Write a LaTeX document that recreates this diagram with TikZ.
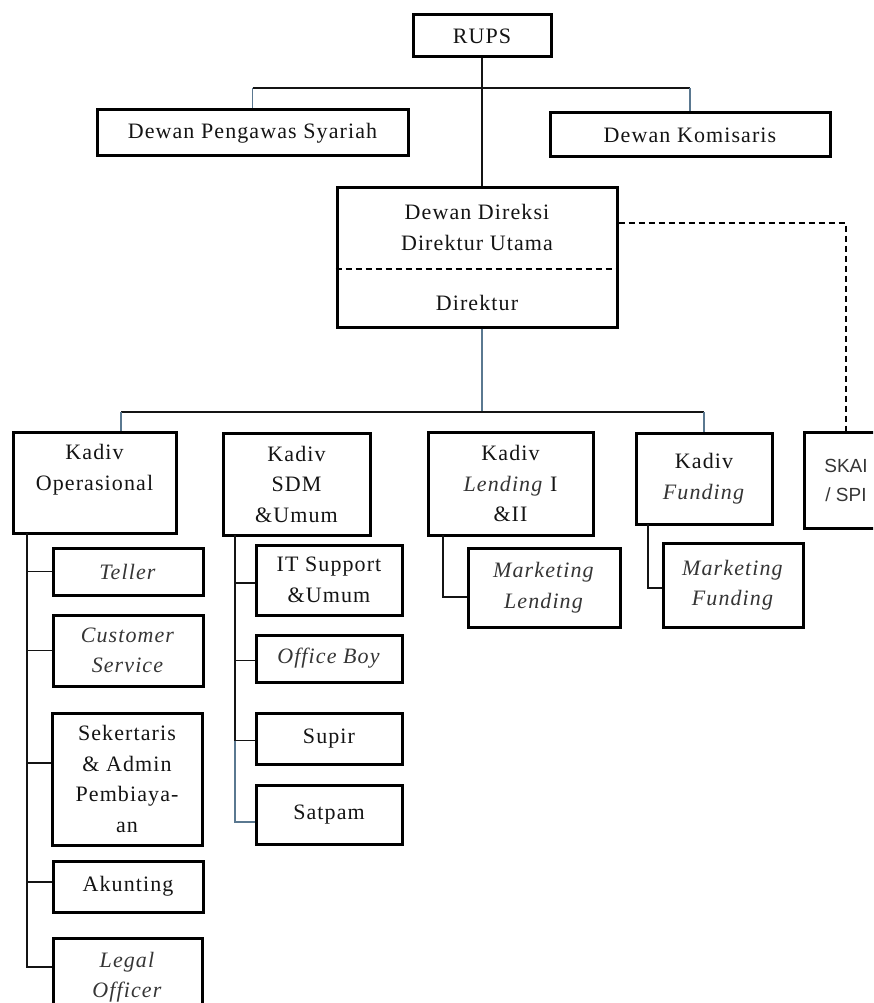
\documentclass[tikz,border=0pt]{standalone}
\usepackage{fontspec}
\setmainfont{Liberation Serif}[LetterSpace=5]
\setsansfont{Liberation Sans}
\usepackage{tikz}

\definecolor{ink}{HTML}{141414}
\definecolor{inkit}{HTML}{353535}
\definecolor{dropline}{HTML}{5A7890}
\newcommand{\itword}[1]{\textcolor{inkit}{\textit{#1}}}

\begin{document}
\begin{tikzpicture}[
  x=1pt, y=-1pt,
  box/.style={rectangle, draw=black, line width=3pt, inner sep=2pt, align=center, text=ink, font=\fontsize{22}{30.5}\selectfont},
  boxtext/.style={inner sep=0pt, align=center, text=ink, font=\fontsize{22}{31}\selectfont},
  sidebox/.style={box, text=inkit, font=\sffamily\fontsize{19}{29}\selectfont},
  link/.style={draw=ink, line width=1.4pt},
  droplink/.style={draw=dropline, line width=1.1pt},
  dashlink/.style={draw=black, line width=1.4pt, dash pattern=on 6pt off 4pt},
]
\clip (0,0) rectangle (873,1003);

% Top: RUPS and boards
\node[box, minimum width=138pt, minimum height=42pt] (rups) at (482,36) {RUPS};
\node[box, minimum width=311pt, minimum height=46pt] (dps) at (252.5,133) {Dewan Pengawas Syariah};
\node[box, minimum width=280pt, minimum height=44pt] (dk) at (690,135) {Dewan Komisaris};

% Board of directors
\node[box, minimum width=280pt, minimum height=139pt] (dd) at (477,257.5) {};
\node[boxtext] (ddtop) at (477,227.5) {Dewan Direksi\\Direktur Utama};
\node[boxtext] (ddbot) at (477,303) {Direktur};

% Division heads
\node[box, minimum width=163pt, minimum height=101pt] (kop) at (94.5,482.5) {Kadiv\\Operasional\\\mbox{}};
\node[box, minimum width=147pt, minimum height=102pt] (ksdm) at (296.5,484) {Kadiv\\SDM\\\&Umum};
\node[box, minimum width=165pt, minimum height=103pt] (klend) at (510.5,483.5) {Kadiv\\\itword{Lending} I\\\&II};
\node[box, minimum width=136pt, minimum height=91pt] (kfund) at (704,478.5) {Kadiv\\\itword{Funding}};
\node[sidebox, minimum width=84pt, minimum height=96pt] (skai) at (846,480) {SKAI\\/ SPI};

% Operasional staff
\node[box, minimum width=150pt, minimum height=47pt] (teller) at (128,571.5) {\itword{Teller}};
\node[box, minimum width=150pt, minimum height=71pt] (cs) at (128,650.5) {\itword{Customer}\\\itword{Service}};
\node[box, minimum width=150pt, minimum height=132pt] (sek) at (127,779) {Sekertaris\\\& Admin\\Pembiaya-\\an};
\node[box, minimum width=150pt, minimum height=51pt] (akun) at (128,886.5) {Akunting};
\node[box, minimum width=149pt, minimum height=78pt] (legal) at (127.5,977) {\itword{Legal}\\\itword{Officer}};

% SDM staff
\node[box, minimum width=146pt, minimum height=70pt] (itsup) at (329,580) {IT Support\\\&Umum};
\node[box, minimum width=146pt, minimum height=47pt] (oboy) at (329,658.5) {\itword{Office Boy}};
\node[box, minimum width=146pt, minimum height=51pt] (supir) at (329,738.5) {Supir};
\node[box, minimum width=146pt, minimum height=59pt] (satpam) at (329,814.5) {Satpam};

% Marketing
\node[box, minimum width=152pt, minimum height=79pt] (mlend) at (544,587.5) {\itword{Marketing}\\\itword{Lending}};
\node[box, minimum width=140pt, minimum height=84pt] (mfund) at (733,585) {\itword{Marketing}\\\itword{Funding}};

% Helper points
\coordinate (bartop) at (482,88);
\coordinate (barmid) at (482,412);
\coordinate (ddsplit) at (477,269);
\coordinate (spiturn) at (846,223);
\coordinate (opdrop) at ([xshift=26.5pt]kop.north);
\coordinate (optrunk) at (27,533);
\coordinate (sdmtrunk) at (235,535);
\coordinate (lendtrunk) at (443,535);
\coordinate (fundtrunk) at (648,524);

% Connectors
\draw[link] (rups.south) -- (rups.south |- dd.north);
\draw[link] (dps.north |- bartop) -- (dk.north |- bartop);
\draw[droplink] (dps.north |- bartop) -- (dps.north);
\draw[droplink] (dk.north |- bartop) -- (dk.north);
\draw[dashlink, line width=1.2pt] (dd.west |- ddsplit) -- (dd.east |- ddsplit);
\draw[dashlink] (dd.east |- spiturn) -- (spiturn) -- (skai.north);
\draw[droplink] (barmid |- dd.south) -- (barmid);
\draw[link] (opdrop |- barmid) -- (kfund.north |- barmid);
\draw[droplink] (opdrop |- barmid) -- (opdrop);
\draw[droplink] (kfund.north |- barmid) -- (kfund.north);

\foreach \kid in {teller, cs}
  \draw[link] (\kid.west) -| (optrunk);
\draw[link] ([yshift=16pt]sek.west) -| (optrunk);
\draw[link] ([yshift=4.5pt]akun.west) -| (optrunk);
\draw[link] ([yshift=10pt]legal.west) -| (optrunk);

\draw[droplink] ([yshift=-7.5pt]satpam.west) -| (sdmtrunk);
\draw[link] ([yshift=-3pt]itsup.west) -| (sdmtrunk);
\foreach \kid in {oboy, supir}
  \draw[link] ([yshift=-2pt]\kid.west) -| (sdmtrunk);

\draw[link] ([yshift=-9.5pt]mlend.west) -| (lendtrunk);
\draw[link] ([yshift=-3pt]mfund.west) -| (fundtrunk);

\end{tikzpicture}
\end{document}
